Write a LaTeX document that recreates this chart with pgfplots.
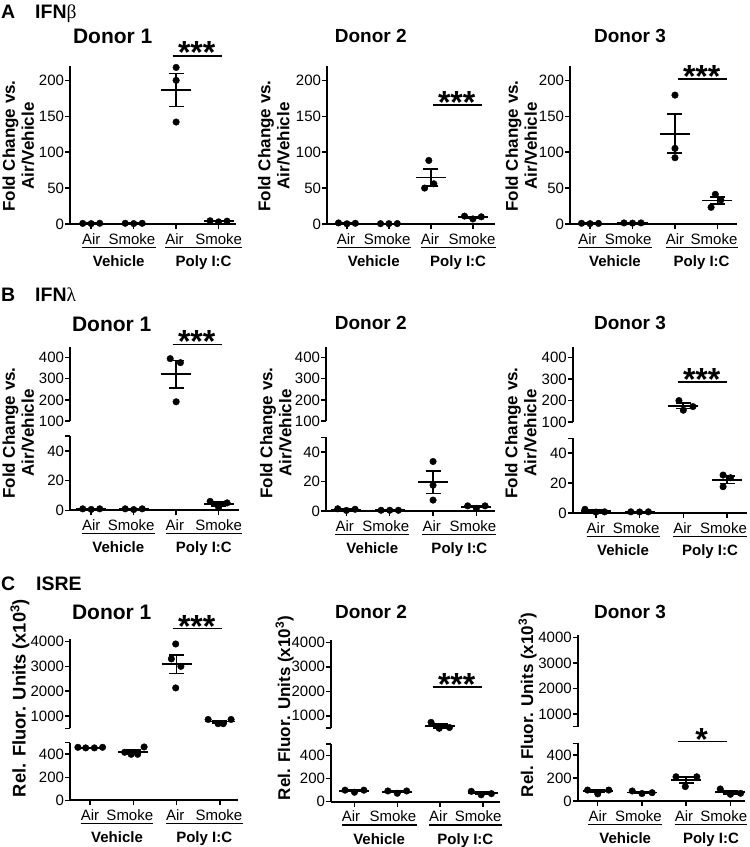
\documentclass[border=0pt]{standalone}
\usepackage{fontspec}
\setmainfont{Liberation Sans}
\newfontfamily\grk{Liberation Serif}
\usepackage{pgfplots}
\pgfplotsset{compat=1.18}
\usetikzlibrary{calc}

\pgfplotsset{
 P/.style={scale only axis, clip=false, axis x line*=bottom, axis y line*=left,
   axis line style={-,line width=1.8bp}, tick style={black,line width=1.5bp},
   major tick length=5bp, tick align=outside, xtick={1,2,3,4}, xticklabels={},
   yticklabel style={font=\fontsize{15bp}{15bp}\selectfont, inner sep=0.8bp},
   /pgf/number format/assume math mode=true},
 U/.style={P, axis x line=none},
 pts/.style={only marks, mark=*, mark size=3.3bp, black},
 mb/.style={only marks, mark=-, mark size=15bp, mark options={line width=1.7bp}, black,
   error bars/.cd, y dir=both, y explicit,
   error mark options={rotate=90, mark size=7.5bp, line width=1.7bp},
   error bar style={line width=1.7bp}},
}
\tikzset{
 cat/.style={anchor=base, yshift=-20bp, inner sep=0pt, font=\fontsize{15bp}{15bp}\selectfont},
 grp/.style={anchor=base, inner sep=0pt, font=\bfseries\fontsize{15bp}{15bp}\selectfont},
 ttl/.style={inner sep=0pt, font=\bfseries\fontsize{19bp}{19bp}\selectfont},
 ttlA/.style={inner sep=0pt, font=\bfseries\fontsize{21bp}{21bp}\selectfont},
 ylab/.style={inner sep=0pt, rotate=90, align=center, font=\bfseries\fontsize{17bp}{19bp}\selectfont},
 sig/.style={inner sep=0pt, anchor=north, font=\bfseries\fontsize{32bp}{32bp}\selectfont},
 sigl/.style={line width=1.5bp},
 head/.style={inner sep=0pt, anchor=base west, font=\bfseries\fontsize{19.5bp}{19.5bp}\selectfont},
}
\newcommand\cats[4]{%
 \node[cat] (a1) at (axis cs:#1,0) {Air};
 \node[cat] (s1) at (axis cs:#2,0) {Smoke};
 \node[cat] (a2) at (axis cs:#3,0) {Air};
 \node[cat] (s2) at (axis cs:#4,0) {Smoke};
 \draw[line width=1.3bp] ([yshift=-3.3bp]a1.base west) -- ([yshift=-3.3bp]s1.base east)
    node[grp, pos=0.5, yshift=-19.2bp] {Vehicle};
 \draw[line width=1.3bp] ([yshift=-3.3bp]a2.base west) -- ([yshift=-3.3bp]s2.base east)
    node[grp, pos=0.5, yshift=-19.2bp] {Poly I:C};
}

\begin{document}
\begin{tikzpicture}
\path[use as bounding box] (0,0) rectangle (750bp,-847bp);

% ================= Row A : IFN beta =================
\begin{axis}[P, at={(70bp,-224bp)}, anchor=south west, width=166bp, height=158bp,
  xmin=0.5, xmax=4.41, ymin=0, ymax=220, ytick={0,50,100,150,200}, yticklabels={0,50,100,150,200}]
\addplot[mb] table[x index=0, y index=1, y error index=2] {
1 0.8 0.15
2 0.9 0.1
3 186.7 22.9
4 3.8 0.5
};
\addplot[pts] table {
0.8 0.8
1.0 0.5
1.2 1.0
1.8 1.0
2.0 0.6
2.2 1.0
3.0 218
3.0 200
3.0 142
3.8 4.5
4.0 3
4.2 4
};
\cats{1}{1.96}{2.96}{4}
\end{axis}

\begin{axis}[P, at={(327bp,-224bp)}, anchor=south west, width=168bp, height=158bp,
  xmin=0.526, xmax=4.526, ymin=0, ymax=220, ytick={0,50,100,150,200}, yticklabels={0,50,100,150,200}]
\addplot[mb] table[x index=0, y index=1, y error index=2] {
1 0.9 0.35
2 0.5 0.05
3 64.8 12
4 9.3 1.2
};
\addplot[pts] table {
0.8 1.5
1.0 0.3
1.2 1.0
1.8 0.5
2.0 0.5
2.2 0.6
2.95 88.5
2.85 50
3.07 56
3.8 11
4.0 7
4.2 10
};
\cats{0.98}{1.96}{2.98}{3.98}
\end{axis}

\begin{axis}[P, at={(570bp,-224bp)}, anchor=south west, width=167bp, height=158bp,
  xmin=0.529, xmax=4.46, ymin=0, ymax=220, ytick={0,50,100,150,200}, yticklabels={0,50,100,150,200}]
\addplot[mb] table[x index=0, y index=1, y error index=2] {
1 0.8 0.15
2 1.4 0.1
3 125.7 27.2
4 32.6 5.2
};
\addplot[pts] table {
0.8 1.0
1.0 0.5
1.2 0.8
1.8 1.5
2.0 1.2
2.2 1.5
3.0 179.5
3.0 105.3
3.0 92.3
3.95 41.3
4.08 33.4
3.85 23.2
};
\cats{0.94}{1.9}{3.0}{3.92}
\end{axis}

% ================= Row B : IFN lambda =================
\begin{axis}[U, at={(70bp,-421bp)}, anchor=south west, width=169bp, height=74bp,
  xmin=0.5, xmax=4.48, ymin=100, ymax=450, ytick={100,200,300,400}, yticklabels={100,200,300,400}]
\addplot[mb] table[x index=0, y index=1, y error index=2] {
3 320.7 65
};
\addplot[pts] table {
2.86 395
3.1 376
3.0 191
};
\end{axis}
\begin{axis}[P, at={(70bp,-510.3bp)}, anchor=south west, width=169bp, height=74.3bp,
  xmin=0.5, xmax=4.48, ymin=0, ymax=50, ytick={0,20,40,50}, yticklabels={0,20,40,{}}]
\addplot[mb] table[x index=0, y index=1, y error index=2] {
1 0.9 0.1
2 0.8 0.15
4 4.3 1.2
};
\addplot[pts] table {
0.8 1.0
1.0 0.6
1.2 1.0
1.8 1.0
2.0 0.5
2.2 1.0
3.8 6
4.0 2
4.2 5
};
\cats{1}{1.94}{2.97}{4}
\end{axis}

\begin{axis}[U, at={(326bp,-421bp)}, anchor=south west, width=169bp, height=74bp,
  xmin=0.529, xmax=4.43, ymin=100, ymax=450, ytick={100,200,300,400}, yticklabels={100,200,300,400}]
\addplot[draw=none] coordinates {(1,200)};
\end{axis}
\begin{axis}[P, at={(326bp,-511bp)}, anchor=south west, width=169bp, height=73.7bp,
  xmin=0.529, xmax=4.43, ymin=0, ymax=50, ytick={0,20,40,50}, yticklabels={0,20,40,{}}]
\addplot[mb] table[x index=0, y index=1, y error index=2] {
1 1.0 0.3
2 0.5 0.05
3 19.5 7.6
4 2.9 0.6
};
\addplot[pts] table {
0.8 1.5
1.0 0.4
1.2 1.2
1.8 0.5
2.0 0.5
2.2 0.5
3.0 33.6
3.0 17.5
3.0 7.4
3.8 3.5
4.0 1.8
4.2 3.5
};
\cats{0.96}{1.91}{2.97}{3.92}
\end{axis}

\begin{axis}[U, at={(572.7bp,-422bp)}, anchor=south west, width=174bp, height=75bp,
  xmin=0.47, xmax=4.45, ymin=100, ymax=450, ytick={100,200,300,400}, yticklabels={100,200,300,400}]
\addplot[mb] table[x index=0, y index=1, y error index=2] {
3 175.7 13
};
\addplot[pts] table {
2.9 200
3.0 155
3.22 172
};
\end{axis}
\begin{axis}[P, at={(572.7bp,-513bp)}, anchor=south west, width=174bp, height=74.7bp,
  xmin=0.47, xmax=4.45, ymin=0, ymax=50, ytick={0,20,40,50}, yticklabels={0,20,40,{}}]
\addplot[mb] table[x index=0, y index=1, y error index=2] {
1 1.3 0.6
2 0.8 0.05
4 22.2 2.4
};
\addplot[pts] table {
0.75 2.5
1.0 0.6
1.2 0.8
1.8 0.8
2.0 0.7
2.2 0.8
3.91 25.4
4.08 23.6
3.91 17.6
};
\cats{1}{1.92}{2.98}{3.92}
\end{axis}

% ================= Row C : ISRE =================
\begin{axis}[U, at={(70bp,-728.4bp)}, anchor=south west, width=168bp, height=89.4bp,
  xmin=0.537, xmax=4.42, ymin=500, ymax=4100, ytick={500,1000,2000,3000,4000}, yticklabels={{},1000,2000,3000,4000}]
\addplot[mb] table[x index=0, y index=1, y error index=2] {
3 3082 366
4 775 49
};
\addplot[pts] table {
2.98 3900
2.88 3300
3.1 3000
2.98 2130
3.73 860
3.96 690
4.08 690
4.26 860
};
\end{axis}
\begin{axis}[P, at={(70bp,-800.3bp)}, anchor=south west, width=168bp, height=57.6bp,
  xmin=0.537, xmax=4.42, ymin=0, ymax=500, ytick={0,200,400,500}, yticklabels={0,200,400,{}}]
\addplot[mb] table[x index=0, y index=1, y error index=2] {
1 457 1.5
2 419.5 15
};
\addplot[pts] table {
0.72 460
0.9 455
1.1 455
1.29 460
1.8 417
1.95 399
2.1 399
2.25 463
};
\cats{1}{1.92}{2.97}{3.98}
\end{axis}

\begin{axis}[U, at={(331bp,-728bp)}, anchor=south west, width=169bp, height=88.1bp,
  xmin=0.452, xmax=4.4, ymin=500, ymax=4100, ytick={500,1000,2000,3000,4000}, yticklabels={{},1000,2000,3000,4000}]
\addplot[mb] table[x index=0, y index=1, y error index=2] {
3 580 75
};
\addplot[pts] table {
2.79 730
2.98 490
3.22 520
};
\end{axis}
\begin{axis}[P, at={(331bp,-801.7bp)}, anchor=south west, width=169bp, height=57.7bp,
  xmin=0.452, xmax=4.4, ymin=0, ymax=500, ytick={0,200,400,500}, yticklabels={0,200,400,{}}]
\addplot[mb] table[x index=0, y index=1, y error index=2] {
1 94 6
2 86 7
4 73 9
};
\addplot[pts] table {
0.78 100
1.0 82
1.22 100
1.78 93
2.0 73
2.22 93
3.73 90
3.96 60
4.2 70
};
\cats{0.92}{1.9}{2.96}{3.89}
\end{axis}

\begin{axis}[U, at={(577.7bp,-726.7bp)}, anchor=south west, width=167.3bp, height=91.5bp,
  xmin=0.547, xmax=4.33, ymin=500, ymax=4100, ytick={500,1000,2000,3000,4000}, yticklabels={{},1000,2000,3000,4000}]
\addplot[draw=none] coordinates {(1,2000)};
\end{axis}
\begin{axis}[P, at={(577.7bp,-801bp)}, anchor=south west, width=167.3bp, height=57.7bp,
  xmin=0.547, xmax=4.33, ymin=0, ymax=500, ytick={0,200,400,500}, yticklabels={0,200,400,{}}]
\addplot[mb] table[x index=0, y index=1, y error index=2] {
1 84 11
2 75 6.5
3 182 28
4 76 14
};
\addplot[pts] table {
0.77 95
1.0 62
1.25 95
1.78 87
2.0 65
2.23 72
2.77 210
2.98 125
3.24 210
3.77 104
4.0 58
4.23 67
};
\cats{1}{1.92}{2.95}{3.85}
\end{axis}

% ================= Annotations =================
\node[head] at (1bp,-18.3bp) {A};
\node[head] at (35bp,-18.3bp) {IFN{\grk\mdseries β}};
\node[head] at (1bp,-301bp) {B};
\node[head] at (35bp,-301bp) {IFN{\grk\mdseries λ}};
\node[head] at (1bp,-590bp) {C};
\node[head] at (36bp,-590bp) {ISRE};

\node[ttlA] at (112.7bp,-36.5bp) {Donor 1};
\node[ttl] at (370.8bp,-36bp) {Donor 2};
\node[ttl] at (630bp,-36bp) {Donor 3};
\node[ttlA] at (111.7bp,-324bp) {Donor 1};
\node[ttl] at (370.8bp,-323bp) {Donor 2};
\node[ttl] at (630bp,-323bp) {Donor 3};
\node[ttlA] at (111.7bp,-612.5bp) {Donor 1};
\node[ttl] at (371bp,-612bp) {Donor 2};
\node[ttl] at (630bp,-612bp) {Donor 3};

\node[ylab] at (18.3bp,-146bp) {Fold Change vs.\\Air/Vehicle};
\node[ylab] at (274bp,-146bp) {Fold Change vs.\\Air/Vehicle};
\node[ylab] at (521.5bp,-146bp) {Fold Change vs.\\Air/Vehicle};
\node[ylab] at (18.3bp,-433bp) {Fold Change vs.\\Air/Vehicle};
\node[ylab] at (276bp,-433bp) {Fold Change vs.\\Air/Vehicle};
\node[ylab] at (520.8bp,-433bp) {Fold Change vs.\\Air/Vehicle};
\node[ylab, font=\bfseries\fontsize{18.3bp}{20bp}\selectfont] at (20bp,-698bp) {Rel. Fluor. Units (x10\textsuperscript{3})};
\node[ylab] at (284.5bp,-708bp) {Rel. Fluor. Units (x10\textsuperscript{3})};
\node[ylab] at (527.5bp,-705bp) {Rel. Fluor. Units (x10\textsuperscript{3})};

\node[sig] at (196.7bp,-41.7bp) {***};
\draw[sigl] (172.7bp,-56bp) -- (221.7bp,-56bp);
\node[sig] at (456.7bp,-91.7bp) {***};
\draw[sigl] (432.7bp,-105bp) -- (481.7bp,-105bp);
\node[sig] at (701.7bp,-65bp) {***};
\draw[sigl] (677.7bp,-79bp) -- (726.7bp,-79bp);
\node[sig] at (196.7bp,-330bp) {***};
\draw[sigl] (172.7bp,-344.3bp) -- (221.7bp,-344.3bp);
\node[sig] at (701.7bp,-368.3bp) {***};
\draw[sigl] (677.7bp,-382bp) -- (726.7bp,-382bp);
\node[sig] at (196.7bp,-615bp) {***};
\draw[sigl] (172.7bp,-628.3bp) -- (221.7bp,-628.3bp);
\node[sig] at (456.7bp,-673bp) {***};
\draw[sigl] (432.7bp,-687bp) -- (481.7bp,-687bp);
\node[sig] at (701.7bp,-728bp) {*};
\draw[sigl] (677.7bp,-741.7bp) -- (726.7bp,-741.7bp);
\end{tikzpicture}
\end{document}
